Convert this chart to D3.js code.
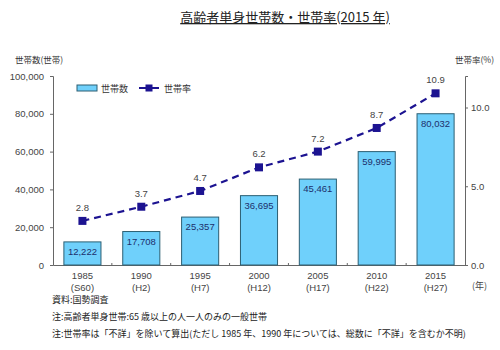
<!DOCTYPE html>
<html>
<head>
<meta charset="utf-8">
<script src="https://cdn.jsdelivr.net/npm/d3@7"></script>
<style>
  body { margin: 0; background: #fff; }
  text { font-family: "Noto Sans CJK JP", "DejaVu Sans", sans-serif; }
</style>
</head>
<body>
<div id="chart-area"></div>
<script>
/* data */
var years = ["1985", "1990", "1995", "2000", "2005", "2010", "2015"];
var eras = ["(S60)", "(H2)", "(H7)", "(H12)", "(H17)", "(H22)", "(H27)"];
var households = [12222, 17708, 25357, 36695, 45461, 59995, 80032];
var rates = [2.8, 3.7, 4.7, 6.2, 7.2, 8.7, 10.9];
var leftTicks = [0, 20000, 40000, 60000, 80000, 100000];
var rightTicks = [0, 5, 10];
var notes = [
  "資料:国勢調査",
  "注:高齢者単身世帯:65 歳以上の人一人のみの一般世帯",
  "注:世帯率は「不詳」を除いて算出(ただし 1985 年、1990 年については、総数に「不詳」を含むか不明)"
];

var margin = { left:53, right:35, top:76, bottom:85 };
var width = 500 - margin.left - margin.right;
var height = 350 - margin.top - margin.bottom;

var svg = d3.select("#chart-area").append("svg")
  .attr("width", 500)
  .attr("height", 350);

var g = svg.append("g")
  .attr("transform", "translate(" + margin.left + ", " + margin.top + ")");

/* scales */
var x = d3.scaleBand()
  .domain(years)
  .range([0, width])
  .paddingInner(0.37)
  .paddingOuter(0.185);

var y = d3.scaleLinear().domain([0, 100000]).range([height, 0]);
var y2 = d3.scaleLinear().domain([0, 12]).range([height, 0]);

/* title */
svg.append("text")
  .attr("x", 285).attr("y", 22)
  .attr("text-anchor", "middle")
  .attr("font-size", "13px")
  .attr("fill", "#222")
  .attr("text-decoration", "underline")
  .text("高齢者単身世帯数・世帯率(2015 年)");

// axis titles
svg.append("text")
  .attr("x", 15).attr("y", 63)
  .attr("font-size", "8.5px").attr("fill", "#333")
  .text("世帯数(世帯)");
svg.append("text")
  .attr("x", 455).attr("y", 63)
  .attr("font-size", "8.5px").attr("fill", "#333")
  .text("世帯率(%)");

/* axes */
var yAxisCall = d3.axisLeft(y)
  .tickValues(leftTicks)
  .tickSize(3)
  .tickFormat(d3.format(","));
var yAxis = g.append("g").call(yAxisCall);

var y2AxisCall = d3.axisRight(y2)
  .tickValues(rightTicks)
  .tickSize(3)
  .tickFormat(d3.format(".1f"));
var y2Axis = g.append("g")
  .attr("transform", "translate(" + width + ", 0)")
  .call(y2AxisCall);

var xAxisCall = d3.axisBottom(x).tickSize(0).tickFormat("");
var xAxis = g.append("g")
  .attr("transform", "translate(0, " + height + ")")
  .call(xAxisCall);

[yAxis, y2Axis, xAxis].forEach(function(a) {
  a.select(".domain").attr("stroke", "#666");
  a.selectAll(".tick line").attr("stroke", "#666");
  a.selectAll(".tick text")
    .attr("fill", "#444")
    .attr("font-size", "9.5px")
    .style("font-family", "'Liberation Sans', Arial, sans-serif");
});
yAxis.selectAll(".tick text").attr("x", -9);
y2Axis.selectAll(".tick text").attr("x", 6);

// small ticks between categories
g.selectAll(".sep")
  .data(years.slice(1))
  .enter().append("line")
    .attr("x1", function(d){ return x(d) - x.step() * x.paddingInner() / 2; })
    .attr("x2", function(d){ return x(d) - x.step() * x.paddingInner() / 2; })
    .attr("y1", height).attr("y2", height - 2)
    .attr("stroke", "#666");

// x labels
var xl = g.selectAll(".xl")
  .data(years)
  .enter().append("g")
    .attr("transform", function(d){ return "translate(" + (x(d) + x.bandwidth()/2) + "," + height + ")"; });
xl.append("text")
  .attr("y", 14).attr("text-anchor", "middle")
  .attr("font-size", "9.5px").attr("fill", "#444")
  .style("font-family", "'Liberation Sans', Arial, sans-serif")
  .text(function(d){ return d; });
xl.append("text")
  .attr("y", 26).attr("text-anchor", "middle")
  .attr("font-size", "9.5px").attr("fill", "#444")
  .style("font-family", "'Liberation Sans', Arial, sans-serif")
  .text(function(d, i){ return eras[i]; });

g.append("text")
  .attr("x", width + 7).attr("y", height + 24)
  .attr("font-size", "9px").attr("fill", "#444")
  .text("(年)");

/* bars */
g.selectAll("rect.bar")
  .data(households)
  .enter().append("rect")
    .attr("class", "bar")
    .attr("x", function(d, i){ return x(years[i]); })
    .attr("y", function(d){ return y(d); })
    .attr("width", x.bandwidth())
    .attr("height", function(d){ return height - y(d); })
    .attr("fill", "#6fd0fb")
    .attr("stroke", "#2c5f73")
    .attr("stroke-width", 1);

g.selectAll(".barlabel")
  .data(households)
  .enter().append("text")
    .attr("x", function(d, i){ return x(years[i]) + x.bandwidth()/2; })
    .attr("y", function(d){ return y(d) + 13; })
    .attr("text-anchor", "middle")
    .attr("font-size", "9.5px")
    .attr("fill", "#1d2f6b")
    .style("font-family", "'Liberation Sans', Arial, sans-serif")
    .text(d3.format(","));

/* line */
var line = d3.line()
  .x(function(d, i){ return x(years[i]) + x.bandwidth()/2; })
  .y(function(d){ return y2(d); });

g.append("path")
  .datum(rates)
  .attr("d", line)
  .attr("fill", "none")
  .attr("stroke", "#1c1391")
  .attr("stroke-width", 2.2)
  .attr("stroke-dasharray", "7,5");

g.selectAll(".pt")
  .data(rates)
  .enter().append("rect")
    .attr("x", function(d, i){ return x(years[i]) + x.bandwidth()/2 - 4; })
    .attr("y", function(d){ return y2(d) - 4; })
    .attr("width", 8).attr("height", 8)
    .attr("fill", "#1c1391");

g.selectAll(".ptlabel")
  .data(rates)
  .enter().append("text")
    .attr("x", function(d, i){ return x(years[i]) + x.bandwidth()/2; })
    .attr("y", function(d){ return y2(d) - 10; })
    .attr("text-anchor", "middle")
    .attr("font-size", "9.5px")
    .attr("fill", "#444")
    .style("font-family", "'Liberation Sans', Arial, sans-serif")
    .text(d3.format(".1f"));

/* legend */
var lg = g.append("g").attr("transform", "translate(24, 12)");
lg.append("rect")
  .attr("x", 0).attr("y", -3).attr("width", 20).attr("height", 6)
  .attr("fill", "#6fd0fb").attr("stroke", "#2c5f73");
lg.append("text")
  .attr("x", 24).attr("y", 3.5)
  .attr("font-size", "9px").attr("fill", "#333")
  .text("世帯数");
lg.append("line")
  .attr("x1", 62).attr("x2", 82).attr("y1", 0).attr("y2", 0)
  .attr("stroke", "#1c1391").attr("stroke-width", 2);
lg.append("rect")
  .attr("x", 68.5).attr("y", -3.5).attr("width", 7).attr("height", 7)
  .attr("fill", "#1c1391");
lg.append("text")
  .attr("x", 87).attr("y", 3.5)
  .attr("font-size", "9px").attr("fill", "#333")
  .text("世帯率");

/* notes */
svg.selectAll(".note")
  .data(notes)
  .enter().append("text")
    .attr("x", 52)
    .attr("y", function(d, i){ return 303 + i * 17; })
    .attr("font-size", "9px")
    .attr("fill", "#222")
    .text(function(d){ return d; });
</script>
</body>
</html>
